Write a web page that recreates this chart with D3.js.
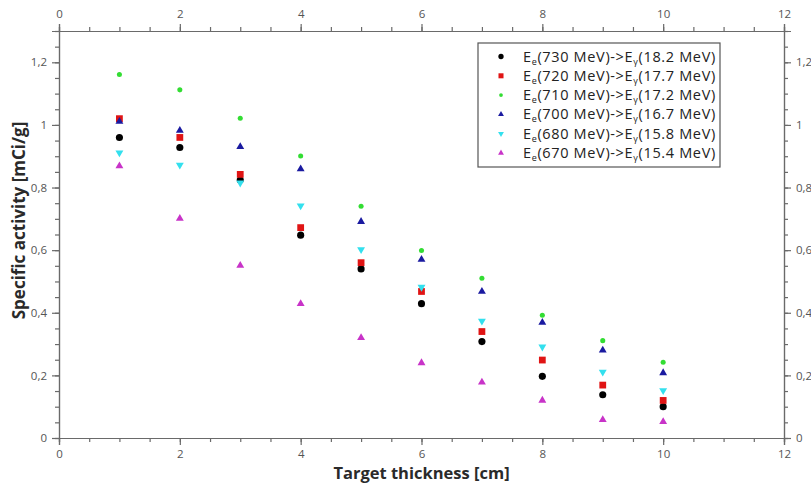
<!DOCTYPE html>
<html>
<head>
<meta charset="utf-8">
<script src="https://cdn.jsdelivr.net/npm/d3@7"></script>
<style>
  html, body { margin: 0; padding: 0; background: #fff; }
  svg { display: block; font-family: "Open Sans", "Noto Sans", sans-serif; }
</style>
</head>
<body>
<svg id="chart" width="811" height="485"></svg>
<script>
// Target thickness [cm]
const thickness = [1, 2, 3, 4, 5, 6, 7, 8, 9, 10];

// Specific activity [mCi/g] for each beam energy
const e730 = [0.96, 0.928, 0.824, 0.648, 0.54, 0.429, 0.308, 0.197, 0.138, 0.100];
const e720 = [1.02, 0.960, 0.842, 0.672, 0.56, 0.468, 0.340, 0.249, 0.169, 0.120];
const e710 = [1.161, 1.112, 1.021, 0.901, 0.74, 0.599, 0.510, 0.392, 0.311, 0.242];
const e700 = [1.011, 0.982, 0.930, 0.859, 0.691, 0.570, 0.468, 0.369, 0.280, 0.208];
const e680 = [0.911, 0.872, 0.815, 0.742, 0.602, 0.482, 0.374, 0.291, 0.211, 0.152];
const e670 = [0.869, 0.701, 0.551, 0.429, 0.32, 0.240, 0.178, 0.120, 0.058, 0.052];

const electronEnergy = ["730", "720", "710", "700", "680", "670"];
const photonEnergy = ["18.2", "17.7", "17.2", "16.7", "15.8", "15.4"];

const xTicks = [0, 2, 4, 6, 8, 10, 12];
const yTicks = [0, 0.2, 0.4, 0.6, 0.8, 1, 1.2];

const seriesDefs = [
  { values: e730, color: "#000000", symbol: d3.symbolCircle, size: 40, rot: 0 },
  { values: e720, color: "#e01414", symbol: d3.symbolSquare, size: 46, rot: 0 },
  { values: e710, color: "#33dd33", symbol: d3.symbolCircle, size: 20, rot: 0 },
  { values: e700, color: "#1a1aa0", symbol: d3.symbolTriangle, size: 27, rot: 0 },
  { values: e680, color: "#33e0ee", symbol: d3.symbolTriangle, size: 27, rot: 180 },
  { values: e670, color: "#c833c8", symbol: d3.symbolTriangle, size: 27, rot: 0 }
];

const svg = d3.select("#chart");
const margin = { left: 59, right: 27, top: 31, bottom: 47 };
const W = 811, H = 485;
const x = d3.scaleLinear().domain([0, 12]).range([margin.left, W - margin.right]);
const y = d3.scaleLinear().domain([0, 1.3]).range([H - margin.bottom, margin.top]);

const fmt = d => String(+d.toFixed(2)).replace(".", ",");
const axisColor = "#6a6a6a";
const labelColor = "#555";

function styleAxis(g) {
  g.select(".domain").attr("stroke", axisColor).attr("stroke-width", 1.2);
  g.selectAll(".tick line").attr("stroke", axisColor).attr("stroke-width", 1.2);
  g.selectAll(".tick text").attr("fill", labelColor).attr("font-size", 11.5)
    .attr("font-family", "'Open Sans', sans-serif");
}

const xMinor = d3.range(0, 12.001, 0.5);
const yMinor = d3.range(0, 1.3001, 0.05);

// minor ticks
svg.append("g").attr("transform", `translate(0,${y(0)})`)
  .call(d3.axisBottom(x).tickValues(xMinor).tickSize(4).tickFormat(""))
  .call(styleAxis);
svg.append("g").attr("transform", `translate(0,${y(1.3)})`)
  .call(d3.axisTop(x).tickValues(xMinor).tickSize(4).tickFormat(""))
  .call(styleAxis);
svg.append("g").attr("transform", `translate(${x(0)},0)`)
  .call(d3.axisLeft(y).tickValues(yMinor).tickSize(4).tickFormat(""))
  .call(styleAxis);
svg.append("g").attr("transform", `translate(${x(12)},0)`)
  .call(d3.axisRight(y).tickValues(yMinor).tickSize(4).tickFormat(""))
  .call(styleAxis);

// major ticks with labels
svg.append("g").attr("transform", `translate(0,${y(0)})`)
  .call(d3.axisBottom(x).tickValues(xTicks).tickSize(7).tickPadding(5).tickFormat(fmt))
  .call(styleAxis);
svg.append("g").attr("transform", `translate(0,${y(1.3)})`)
  .call(d3.axisTop(x).tickValues(xTicks).tickSize(7).tickPadding(6).tickFormat(fmt))
  .call(styleAxis);
svg.append("g").attr("transform", `translate(${x(0)},0)`)
  .call(d3.axisLeft(y).tickValues(yTicks).tickSize(7).tickPadding(5).tickFormat(fmt))
  .call(styleAxis);
svg.append("g").attr("transform", `translate(${x(12)},0)`)
  .call(d3.axisRight(y).tickValues(yTicks).tickSize(7).tickPadding(5).tickFormat(fmt))
  .call(styleAxis);

// axis titles
svg.append("text")
  .attr("x", (x(0) + x(12)) / 2).attr("y", 479)
  .attr("text-anchor", "middle")
  .attr("font-size", 16.5).attr("font-weight", "bold").attr("fill", "#2a2a2a")
  .text("Target thickness [cm]");
svg.append("text")
  .attr("transform", `translate(25,${(y(0) + y(1.3)) / 2 - 14}) rotate(-90)`)
  .attr("text-anchor", "middle")
  .attr("font-size", 17).attr("font-weight", "bold").attr("fill", "#2a2a2a")
  .text("Specific activity [mCi/g]");

// data points
seriesDefs.forEach(s => {
  const sym = d3.symbol().type(s.symbol).size(s.size);
  svg.append("g").selectAll("path")
    .data(s.values.map((v, i) => [thickness[i], v]))
    .join("path")
    .attr("d", sym)
    .attr("fill", s.color)
    .attr("transform", d => `translate(${x(d[0])},${y(d[1])}) rotate(${s.rot})`);
});

// legend
const lg = svg.append("g").attr("transform", "translate(478,43)");
lg.append("rect").attr("width", 242).attr("height", 124)
  .attr("fill", "#fff").attr("stroke", "#555").attr("stroke-width", 1.2);
seriesDefs.forEach((s, i) => {
  const row = lg.append("g").attr("transform", `translate(0,${13.5 + i * 19.3})`);
  row.append("path")
    .attr("d", d3.symbol().type(s.symbol).size(s.size * 0.55)())
    .attr("fill", s.color)
    .attr("transform", `translate(23,0) rotate(${s.rot})`);
  const t = row.append("text").attr("x", 45).attr("y", 5)
    .attr("font-size", 14.5).attr("letter-spacing", 0.65).attr("fill", "#222");
  t.append("tspan").text("E");
  t.append("tspan").attr("font-size", 9).attr("dy", 3).text("e");
  t.append("tspan").attr("dy", -3).text(`(${electronEnergy[i]} MeV)->E`);
  t.append("tspan").attr("font-size", 9).attr("dy", 3).text("γ");
  t.append("tspan").attr("dy", -3).text(`(${photonEnergy[i]} MeV)`);
});
</script>
</body>
</html>
